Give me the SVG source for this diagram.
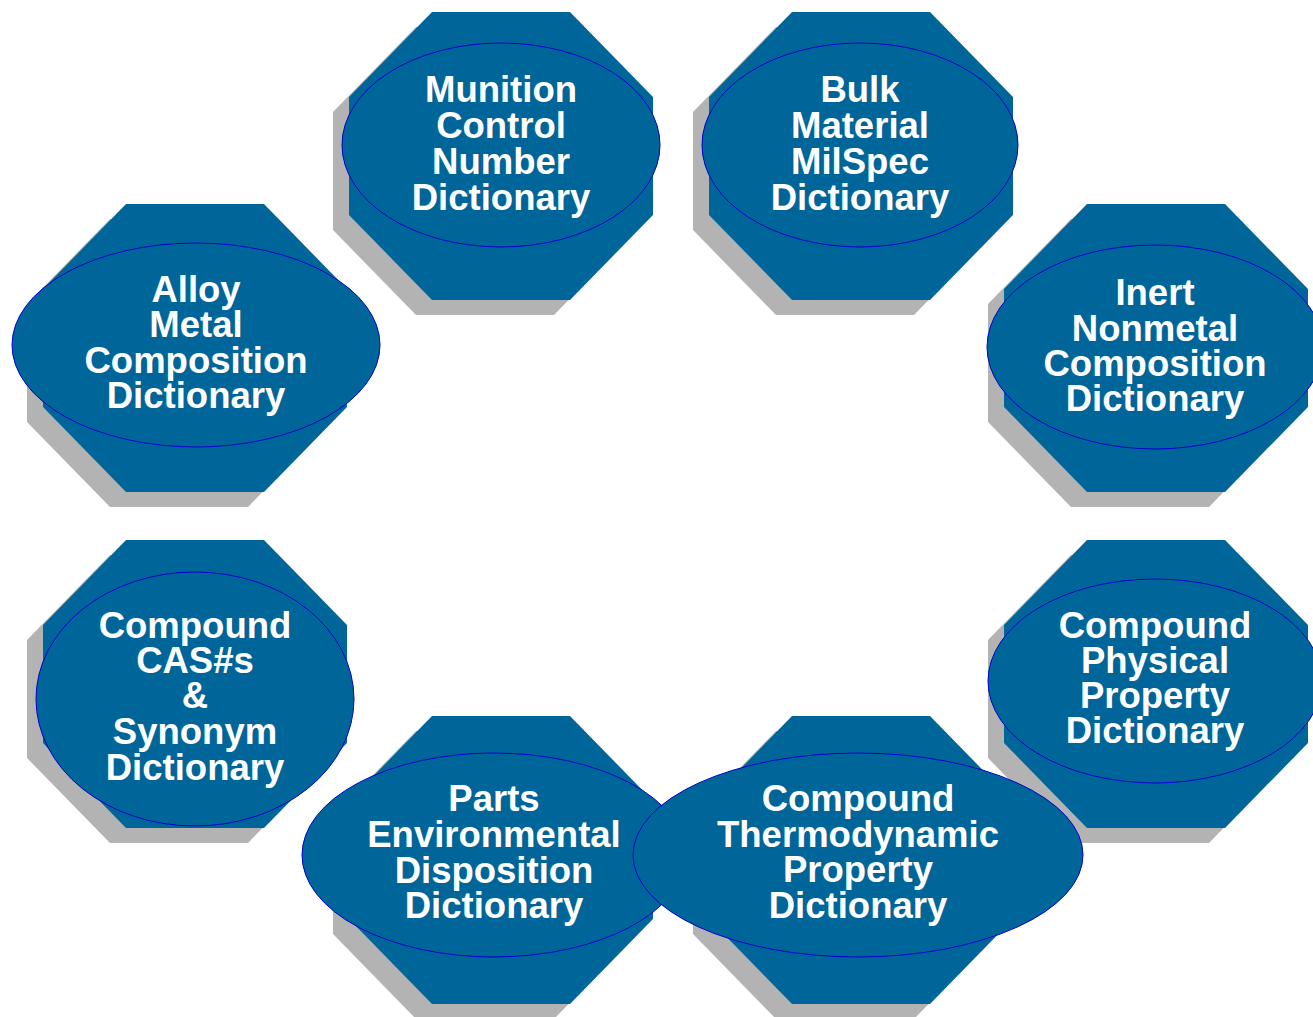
<svg xmlns="http://www.w3.org/2000/svg" xmlns:xlink="http://www.w3.org/1999/xlink" width="1313" height="1017" viewBox="0 0 1313 1017">
<style>
.shadow{fill:#b3b3b3;}
.oct{fill:#006699;}
.ell{fill:#006699;stroke:#0000cc;stroke-width:1;}
.lbl{font-family:"Liberation Sans",Arial,sans-serif;font-weight:bold;font-size:36.5px;fill:#ffffff;text-anchor:middle;}
</style>
<defs>
<polygon id="octagon" points="83,0 221,0 304,85 304,203 221,288 83,288 0,203 0,85"/>
</defs>
<rect width="1313" height="1017" fill="#ffffff"/>
<g id="connectors"></g>

<g id="munition">
<use xlink:href="#octagon" href="#octagon" class="shadow" transform="translate(333,27)"/>
<use xlink:href="#octagon" href="#octagon" class="oct" transform="translate(349,12)"/>
<ellipse class="ell" cx="501" cy="145" rx="159" ry="102"/>
<text class="lbl"><tspan x="501" y="102">Munition</tspan><tspan x="501" y="138">Control</tspan><tspan x="501" y="174">Number</tspan><tspan x="501" y="210">Dictionary</tspan></text>
</g>

<g id="bulk">
<use xlink:href="#octagon" href="#octagon" class="shadow" transform="translate(693,27)"/>
<use xlink:href="#octagon" href="#octagon" class="oct" transform="translate(709,12)"/>
<ellipse class="ell" cx="860" cy="145" rx="158" ry="102"/>
<text class="lbl"><tspan x="860" y="102">Bulk</tspan><tspan x="860" y="138">Material</tspan><tspan x="860" y="174">MilSpec</tspan><tspan x="860" y="210">Dictionary</tspan></text>
</g>

<g id="alloy">
<use xlink:href="#octagon" href="#octagon" class="shadow" transform="translate(27,219)"/>
<use xlink:href="#octagon" href="#octagon" class="oct" transform="translate(43,204)"/>
<ellipse class="ell" cx="196" cy="345" rx="184" ry="102"/>
<text class="lbl"><tspan x="196" y="302">Alloy</tspan><tspan x="196" y="337">Metal</tspan><tspan x="196" y="373">Composition</tspan><tspan x="196" y="408">Dictionary</tspan></text>
</g>

<g id="inert">
<use xlink:href="#octagon" href="#octagon" class="shadow" transform="translate(988,219)"/>
<use xlink:href="#octagon" href="#octagon" class="oct" transform="translate(1004,204)"/>
<ellipse class="ell" cx="1155" cy="347" rx="168" ry="102"/>
<text class="lbl"><tspan x="1155" y="305">Inert</tspan><tspan x="1155" y="341">Nonmetal</tspan><tspan x="1155" y="376">Composition</tspan><tspan x="1155" y="411">Dictionary</tspan></text>
</g>

<g id="cas">
<use xlink:href="#octagon" href="#octagon" class="shadow" transform="translate(27,555)"/>
<use xlink:href="#octagon" href="#octagon" class="oct" transform="translate(43,540)"/>
<ellipse class="ell" cx="195" cy="699" rx="159" ry="127"/>
<text class="lbl"><tspan x="195" y="638">Compound</tspan><tspan x="195" y="673">CAS#s</tspan><tspan x="195" y="708">&amp;</tspan><tspan x="195" y="744">Synonym</tspan><tspan x="195" y="780">Dictionary</tspan></text>
</g>

<g id="physical">
<use xlink:href="#octagon" href="#octagon" class="shadow" transform="translate(988,555)"/>
<use xlink:href="#octagon" href="#octagon" class="oct" transform="translate(1004,540)"/>
<ellipse class="ell" cx="1155" cy="681" rx="167" ry="102"/>
<text class="lbl"><tspan x="1155" y="638">Compound</tspan><tspan x="1155" y="673">Physical</tspan><tspan x="1155" y="708">Property</tspan><tspan x="1155" y="743">Dictionary</tspan></text>
</g>

<g id="parts">
<use xlink:href="#octagon" href="#octagon" class="shadow" transform="translate(333,731)"/>
<use xlink:href="#octagon" href="#octagon" class="oct" transform="translate(349,716)"/>
<ellipse class="ell" cx="494" cy="855" rx="192" ry="102"/>
<text class="lbl"><tspan x="494" y="811">Parts</tspan><tspan x="494" y="847">Environmental</tspan><tspan x="494" y="883">Disposition</tspan><tspan x="494" y="918">Dictionary</tspan></text>
</g>

<g id="thermo">
<use xlink:href="#octagon" href="#octagon" class="shadow" transform="translate(693,731)"/>
<use xlink:href="#octagon" href="#octagon" class="oct" transform="translate(709,716)"/>
<ellipse class="ell" cx="858" cy="855" rx="225" ry="102"/>
<text class="lbl"><tspan x="858" y="811">Compound</tspan><tspan x="858" y="847">Thermodynamic</tspan><tspan x="858" y="882">Property</tspan><tspan x="858" y="918">Dictionary</tspan></text>
</g>
</svg>
